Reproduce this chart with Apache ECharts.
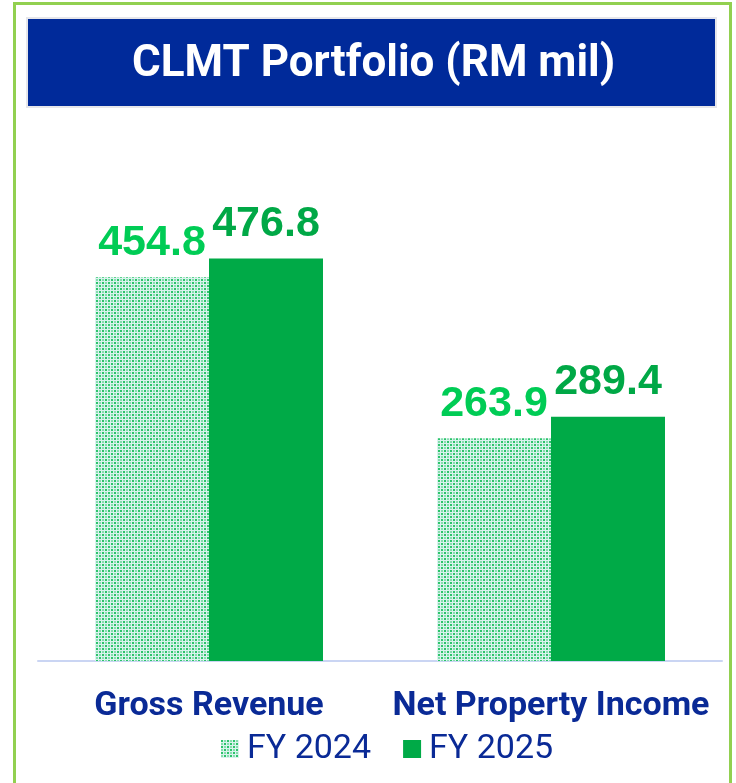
<!DOCTYPE html>
<html lang="en">
<head>
  <meta charset="UTF-8" />
  <title>CLMT Portfolio (RM mil)</title>
  <script src="https://cdn.jsdelivr.net/npm/echarts@6/dist/echarts.min.js"></script>
  <style>
    body { margin: 0; padding: 0; background: #ffffff; }
    #main { width: 736px; height: 783px; }
  </style>
</head>
<body>
  <div id="main"></div>
  <script>
    const categories = ['Gross Revenue', 'Net Property Income'];
    const fy2024 = [454.8, 263.9];
    const fy2025 = [476.8, 289.4];
    const seriesNames = ['FY 2024', 'FY 2025'];

    // dotted fill for the FY 2024 bars
    function makePattern() {
      const c = document.createElement('canvas');
      c.width = 6; c.height = 6;
      const ctx = c.getContext('2d');
      ctx.fillStyle = '#d9f3ee';
      ctx.fillRect(0, 0, 6, 6);
      ctx.fillStyle = '#2cc46a';
      ctx.fillRect(0, 0, 2, 2);
      ctx.fillRect(3, 3, 2, 2);
      ctx.fillStyle = '#86dcae';
      ctx.fillRect(0, 3, 2, 2);
      ctx.fillRect(3, 0, 2, 2);
      return c;
    }

    const chart = echarts.init(document.getElementById('main'));
    const labelFont = { fontSize: 43, fontWeight: 'bold', fontFamily: 'Liberation Sans, Arial, sans-serif' };

    chart.setOption({
      backgroundColor: '#ffffff',
      animation: false,
      graphic: [
        { type: 'rect', shape: { x: 14.5, y: 3.5, width: 716, height: 790 },
          style: { fill: 'none', stroke: '#92d050', lineWidth: 3 } },
        { type: 'rect', shape: { x: 27, y: 18, width: 689, height: 89 },
          style: { fill: '#002a9a', stroke: '#e6e6ea', lineWidth: 2 } },
        { type: 'text', left: 132, top: 43,
          style: { text: 'CLMT Portfolio (RM mil)', fill: '#ffffff',
            font: 'bold 44px Roboto, sans-serif' } }
      ],
      legend: {
        bottom: 12,
        left: 216,
        itemWidth: 18,
        itemHeight: 18,
        itemGap: 32,
        icon: 'rect',
        textStyle: { color: '#0a2a96', fontSize: 34, fontFamily: 'Roboto, sans-serif', padding: [0, 0, 0, 3] },
        data: seriesNames
      },
      grid: { left: 38, right: 14, top: 239, bottom: 122 },
      xAxis: {
        type: 'category',
        data: categories,
        axisTick: { show: false },
        axisLine: { lineStyle: { color: '#cad5f3', width: 2 } },
        axisLabel: {
          interval: 0,
          color: '#0a2a96', fontSize: 34, fontWeight: 'bold',
          fontFamily: 'Roboto, sans-serif', margin: 28
        }
      },
      yAxis: {
        type: 'value',
        min: 0,
        max: 500,
        show: false,
        splitLine: { show: false }
      },
      series: [
        {
          name: seriesNames[0],
          type: 'bar',
          data: fy2024,
          barWidth: 114,
          barGap: '0%',
          itemStyle: { color: { image: makePattern(), repeat: 'repeat' } },
          label: Object.assign({ show: true, position: 'top', distance: 13, color: '#00cc55' }, labelFont)
        },
        {
          name: seriesNames[1],
          type: 'bar',
          data: fy2025,
          barWidth: 114,
          barGap: '0%',
          itemStyle: { color: '#00aa47' },
          label: Object.assign({ show: true, position: 'top', distance: 13, color: '#00a846' }, labelFont)
        }
      ]
    });
  </script>
</body>
</html>
